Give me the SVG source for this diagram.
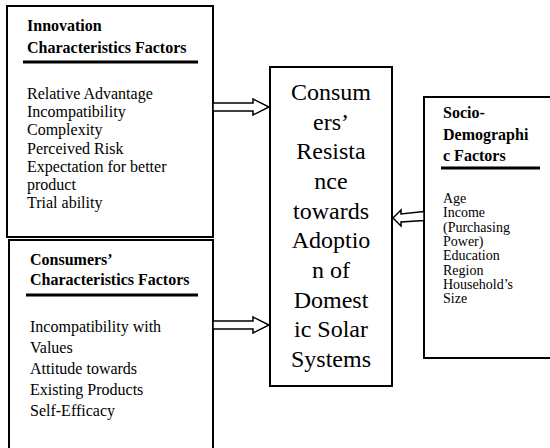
<svg xmlns="http://www.w3.org/2000/svg" width="550" height="448" viewBox="0 0 550 448">
<style>
.box{fill:#fff;stroke:#000;stroke-width:2}
.rule{stroke:#000;stroke-width:3}
.h{font-family:"Liberation Serif","Times New Roman",serif;font-weight:bold;font-size:16px;fill:#000}
.t{font-family:"Liberation Serif","Times New Roman",serif;font-size:16px;fill:#000}
.s{font-family:"Liberation Serif","Times New Roman",serif;font-size:14px;fill:#000}
.c{font-family:"Liberation Serif","Times New Roman",serif;font-size:24px;fill:#000;text-anchor:middle}
.arr{fill:#fff;stroke:#000;stroke-width:1.5;stroke-linejoin:miter}
</style>
<rect width="550" height="448" fill="#fff"/>
<g id="innovation">
<rect class="box" x="7" y="6" width="206" height="231"/>
<text class="h" x="27" y="31">Innovation</text>
<text class="h" x="27" y="53">Characteristics Factors</text>
<line class="rule" x1="23" y1="62" x2="198" y2="62"/>
<text class="t" x="27" y="99">Relative Advantage</text>
<text class="t" x="27" y="117">Incompatibility</text>
<text class="t" x="27" y="135">Complexity</text>
<text class="t" x="27" y="154">Perceived Risk</text>
<text class="t" x="27" y="172">Expectation for better</text>
<text class="t" x="27" y="190">product</text>
<text class="t" x="27" y="208">Trial ability</text>
</g>
<g id="consumers">
<rect class="box" x="9" y="240" width="204" height="212"/>
<text class="h" x="30" y="265">Consumers’</text>
<text class="h" x="30" y="285">Characteristics Factors</text>
<line class="rule" x1="26" y1="295" x2="198" y2="295"/>
<text class="t" x="30" y="332">Incompatibility with</text>
<text class="t" x="30" y="353">Values</text>
<text class="t" x="30" y="374">Attitude towards</text>
<text class="t" x="30" y="395">Existing Products</text>
<text class="t" x="30" y="416">Self-Efficacy</text>
</g>
<g id="resistance">
<rect class="box" x="270" y="67" width="122" height="319"/>
<text class="c" x="331" y="100">Consum</text>
<text class="c" x="331" y="130">ers’</text>
<text class="c" x="331" y="159">Resista</text>
<text class="c" x="331" y="189">nce</text>
<text class="c" x="331" y="219">towards</text>
<text class="c" x="331" y="248">Adoptio</text>
<text class="c" x="331" y="278">n of</text>
<text class="c" x="331" y="308">Domest</text>
<text class="c" x="331" y="337">ic Solar</text>
<text class="c" x="331" y="367">Systems</text>
</g>
<g id="socio">
<rect class="box" x="424" y="97" width="130" height="261"/>
<text class="h" x="443" y="118">Socio-</text>
<text class="h" x="443" y="140">Demographi</text>
<text class="h" x="443" y="161">c Factors</text>
<line class="rule" x1="441" y1="168" x2="540" y2="168"/>
<text class="s" x="443" y="203">Age</text>
<text class="s" x="443" y="217.3">Income</text>
<text class="s" x="443" y="231.6">(Purchasing</text>
<text class="s" x="443" y="245.9">Power)</text>
<text class="s" x="443" y="260.2">Education</text>
<text class="s" x="443" y="274.5">Region</text>
<text class="s" x="443" y="288.8">Household’s</text>
<text class="s" x="443" y="303">Size</text>
</g>
<g id="connectors">
<path class="arr" d="M213,103 L253,103 L253,99 L269,107 L253,115 L253,111 L213,111 Z"/>
<path class="arr" d="M213,321 L253,321 L253,317 L269,325 L253,333 L253,329 L213,329 Z"/>
<path class="arr" d="M424,211.5 L401,214 L401,210 L393,218 L401,226 L401,222 L424,220.5 Z"/>
</g>
</svg>
